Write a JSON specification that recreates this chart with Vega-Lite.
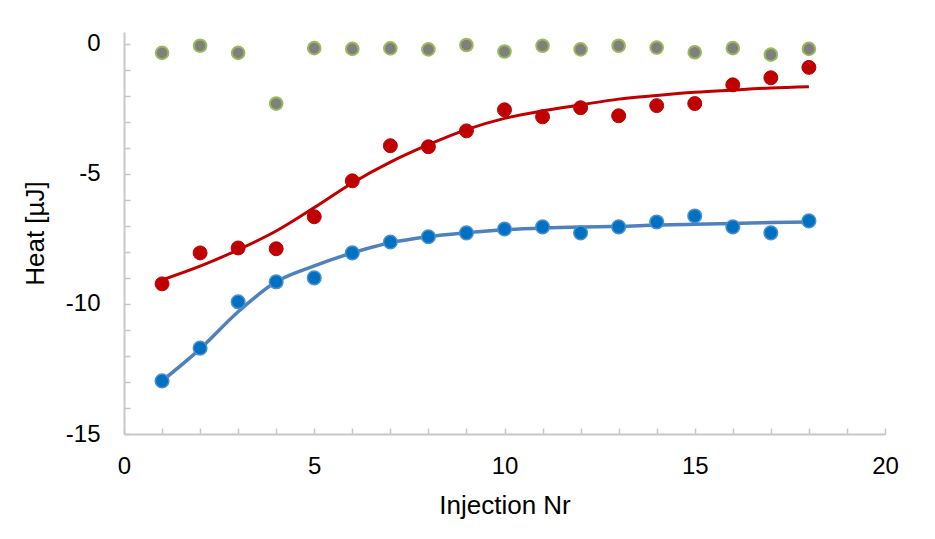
{
  "$schema": "https://vega.github.io/schema/vega-lite/v6.json",
  "autosize": "none",
  "width": 761,
  "height": 402,
  "padding": {"left": 124, "top": 32, "right": 50, "bottom": 105},
  "background": "white",
  "config": {
    "view": {"stroke": null},
    "font": "Liberation Sans",
    "axis": {
      "grid": false,
      "domainColor": "#c8c8c8",
      "domainWidth": 2,
      "tickColor": "#c8c8c8",
      "tickWidth": 1.5,
      "tickSize": -6,
      "labelFont": "Liberation Sans",
      "labelFontSize": 24,
      "labelColor": "#000000",
      "titleFont": "Liberation Sans",
      "titleFontSize": 26,
      "titleFontWeight": "normal",
      "titleColor": "#000000"
    }
  },
  "datasets": {
    "pts": [
      {"n": 1, "series": "gray", "heat": -0.35},
      {"n": 2, "series": "gray", "heat": -0.08},
      {"n": 3, "series": "gray", "heat": -0.35},
      {"n": 4, "series": "gray", "heat": -2.3},
      {"n": 5, "series": "gray", "heat": -0.17},
      {"n": 6, "series": "gray", "heat": -0.2},
      {"n": 7, "series": "gray", "heat": -0.18},
      {"n": 8, "series": "gray", "heat": -0.22},
      {"n": 9, "series": "gray", "heat": -0.05},
      {"n": 10, "series": "gray", "heat": -0.3},
      {"n": 11, "series": "gray", "heat": -0.08},
      {"n": 12, "series": "gray", "heat": -0.22},
      {"n": 13, "series": "gray", "heat": -0.08},
      {"n": 14, "series": "gray", "heat": -0.15},
      {"n": 15, "series": "gray", "heat": -0.33},
      {"n": 16, "series": "gray", "heat": -0.17},
      {"n": 17, "series": "gray", "heat": -0.42},
      {"n": 18, "series": "gray", "heat": -0.2},
      {"n": 1, "series": "red", "heat": -9.23},
      {"n": 2, "series": "red", "heat": -8.04},
      {"n": 3, "series": "red", "heat": -7.85},
      {"n": 4, "series": "red", "heat": -7.88},
      {"n": 5, "series": "red", "heat": -6.65},
      {"n": 6, "series": "red", "heat": -5.27},
      {"n": 7, "series": "red", "heat": -3.92},
      {"n": 8, "series": "red", "heat": -3.96},
      {"n": 9, "series": "red", "heat": -3.35},
      {"n": 10, "series": "red", "heat": -2.54},
      {"n": 11, "series": "red", "heat": -2.81},
      {"n": 12, "series": "red", "heat": -2.46},
      {"n": 13, "series": "red", "heat": -2.77},
      {"n": 14, "series": "red", "heat": -2.38},
      {"n": 15, "series": "red", "heat": -2.3},
      {"n": 16, "series": "red", "heat": -1.58},
      {"n": 17, "series": "red", "heat": -1.31},
      {"n": 18, "series": "red", "heat": -0.91},
      {"n": 1, "series": "blue", "heat": -12.96},
      {"n": 2, "series": "blue", "heat": -11.7},
      {"n": 3, "series": "blue", "heat": -9.92},
      {"n": 4, "series": "blue", "heat": -9.15},
      {"n": 5, "series": "blue", "heat": -9.0},
      {"n": 6, "series": "blue", "heat": -8.04},
      {"n": 7, "series": "blue", "heat": -7.62},
      {"n": 8, "series": "blue", "heat": -7.42},
      {"n": 9, "series": "blue", "heat": -7.27},
      {"n": 10, "series": "blue", "heat": -7.12},
      {"n": 11, "series": "blue", "heat": -7.04},
      {"n": 12, "series": "blue", "heat": -7.27},
      {"n": 13, "series": "blue", "heat": -7.04},
      {"n": 14, "series": "blue", "heat": -6.85},
      {"n": 15, "series": "blue", "heat": -6.62},
      {"n": 16, "series": "blue", "heat": -7.04},
      {"n": 17, "series": "blue", "heat": -7.27},
      {"n": 18, "series": "blue", "heat": -6.81}
    ],
    "fits": [
      {"n": 1, "series": "red", "heat": -9.08},
      {"n": 2, "series": "red", "heat": -8.55},
      {"n": 3, "series": "red", "heat": -7.92},
      {"n": 4, "series": "red", "heat": -7.2},
      {"n": 5, "series": "red", "heat": -6.3},
      {"n": 6, "series": "red", "heat": -5.35},
      {"n": 7, "series": "red", "heat": -4.55},
      {"n": 8, "series": "red", "heat": -3.88},
      {"n": 9, "series": "red", "heat": -3.3},
      {"n": 10, "series": "red", "heat": -2.87},
      {"n": 11, "series": "red", "heat": -2.58},
      {"n": 12, "series": "red", "heat": -2.35},
      {"n": 13, "series": "red", "heat": -2.13},
      {"n": 14, "series": "red", "heat": -1.99},
      {"n": 15, "series": "red", "heat": -1.87},
      {"n": 16, "series": "red", "heat": -1.78},
      {"n": 17, "series": "red", "heat": -1.7},
      {"n": 18, "series": "red", "heat": -1.65},
      {"n": 1, "series": "blue", "heat": -12.96},
      {"n": 2, "series": "blue", "heat": -11.73},
      {"n": 3, "series": "blue", "heat": -10.3},
      {"n": 4, "series": "blue", "heat": -9.15},
      {"n": 5, "series": "blue", "heat": -8.54},
      {"n": 6, "series": "blue", "heat": -8.04},
      {"n": 7, "series": "blue", "heat": -7.65},
      {"n": 8, "series": "blue", "heat": -7.42},
      {"n": 9, "series": "blue", "heat": -7.27},
      {"n": 10, "series": "blue", "heat": -7.15},
      {"n": 11, "series": "blue", "heat": -7.08},
      {"n": 12, "series": "blue", "heat": -7.04},
      {"n": 13, "series": "blue", "heat": -7.02},
      {"n": 14, "series": "blue", "heat": -6.97},
      {"n": 15, "series": "blue", "heat": -6.94},
      {"n": 16, "series": "blue", "heat": -6.91},
      {"n": 17, "series": "blue", "heat": -6.87},
      {"n": 18, "series": "blue", "heat": -6.85}
    ]
  },
  "encoding": {
    "x": {
      "field": "n",
      "type": "quantitative",
      "scale": {"domain": [0, 20], "nice": false, "zero": false},
      "axis": {
        "title": "Injection Nr",
        "values": [0,1,2,3,4,5,6,7,8,9,10,11,12,13,14,15,16,17,18,19,20],
        "labelExpr": "datum.value % 5 === 0 ? '' + datum.value : ''",
        "labelPadding": 26,
        "titlePadding": 14,
        "labelFlush": false
      }
    },
    "y": {
      "field": "heat",
      "type": "quantitative",
      "scale": {"domain": [-15, 0.45], "nice": false, "zero": false},
      "axis": {
        "title": "Heat [µJ]",
        "values": [-15,-14,-13,-12,-11,-10,-9,-8,-7,-6,-5,-4,-3,-2,-1,0],
        "labelExpr": "datum.value % 5 === 0 ? '' + datum.value : ''",
        "labelPadding": 30,
        "titlePadding": 17,
        "labelFlush": false
      }
    }
  },
  "layer": [
    {
      "data": {"name": "fits"},
      "transform": [{"filter": "datum.series === 'red'"}],
      "mark": {"type": "line", "color": "#C00000", "strokeWidth": 3, "interpolate": "monotone"}
    },
    {
      "data": {"name": "fits"},
      "transform": [{"filter": "datum.series === 'blue'"}],
      "mark": {"type": "line", "color": "#4F81BD", "strokeWidth": 3.5, "interpolate": "monotone"}
    },
    {
      "data": {"name": "pts"},
      "transform": [{"filter": "datum.series === 'blue'"}],
      "mark": {"type": "point", "filled": true, "fill": "#0070C0", "stroke": "#4A8FD0", "strokeWidth": 1.5, "size": 185, "opacity": 1}
    },
    {
      "data": {"name": "pts"},
      "transform": [{"filter": "datum.series === 'red'"}],
      "mark": {"type": "point", "filled": true, "fill": "#C00000", "stroke": "#C00000", "strokeWidth": 1, "size": 195, "opacity": 1}
    },
    {
      "data": {"name": "pts"},
      "transform": [{"filter": "datum.series === 'gray'"}],
      "mark": {"type": "point", "filled": true, "fill": "#7F7F7F", "stroke": "#9BBB59", "strokeWidth": 2, "size": 160, "opacity": 1}
    }
  ]
}
